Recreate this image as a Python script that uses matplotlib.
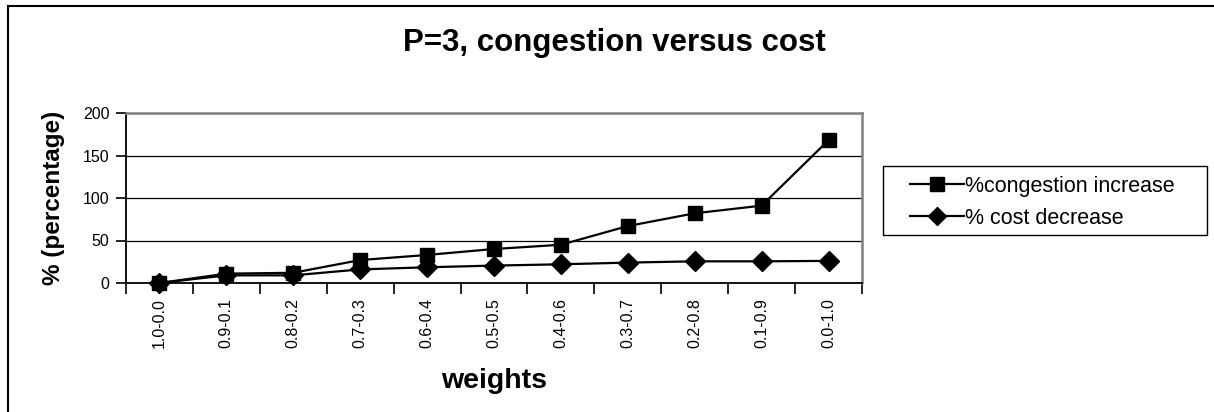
import numpy as np
import matplotlib

matplotlib.use("Agg")
import matplotlib.pyplot as plt
from matplotlib.lines import Line2D
from matplotlib.patches import Rectangle

# ----------------------------------------------------------------------
# Daten
# ----------------------------------------------------------------------

weights = ["1.0-0.0", "0.9-0.1", "0.8-0.2", "0.7-0.3", "0.6-0.4", "0.5-0.5",
           "0.4-0.6", "0.3-0.7", "0.2-0.8", "0.1-0.9", "0.0-1.0"]
congestion_increase = [0, 11, 12, 27, 33, 40, 45, 67, 82, 91, 168]
cost_decrease = [0, 9, 9, 16, 18.5, 20.5, 22, 24, 25.5, 25.5, 26]
y_ticks = [0, 50, 100, 150, 200]

W, H = 1214, 412

plt.rcParams["font.family"] = ["Liberation Sans", "DejaVu Sans"]

fig = plt.figure(figsize=(W / 100, H / 100), dpi=100)
ax = fig.add_axes([126 / W, 1 - 283 / H, 736 / W, 170 / H])

x = np.arange(len(weights))
ax.plot(x, congestion_increase, color="black", linewidth=1.6, marker="s",
        markersize=10.5, clip_on=False, zorder=4,
        label="%congestion increase")
ax.plot(x, cost_decrease, color="black", linewidth=1.6, marker="D",
        markersize=10.5, clip_on=False, zorder=4,
        label="% cost decrease")

ax.set_xlim(-0.5, len(weights) - 0.5)
ax.set_ylim(0, 200)
ax.set_yticks(y_ticks)
ax.set_yticklabels([str(v) for v in y_ticks], fontsize=11.5)
ax.set_xticks(x)
ax.set_xticklabels(weights, rotation=90, fontsize=11.5)
ax.set_xticks(np.arange(-0.5, len(weights)), minor=True)
ax.tick_params(axis="x", which="major", length=0, pad=11)
ax.tick_params(axis="x", which="minor", length=8, width=1.2, color="black")
ax.tick_params(axis="y", length=7, width=1.2, pad=5)

ax.grid(axis="y", color="black", linewidth=0.9)
ax.set_axisbelow(True)
for side in ["top", "right"]:
    ax.spines[side].set_color("#808080")
    ax.spines[side].set_linewidth(1.8)
for side in ["left", "bottom"]:
    ax.spines[side].set_color("black")
    ax.spines[side].set_linewidth(1.3)

ax.set_xlabel("weights", fontsize=20.5, fontweight="bold", labelpad=14)
ax.set_ylabel("% (percentage)", fontsize=17.5, fontweight="bold", labelpad=13)

fig.text(0.506, 1 - 43 / H, "P=3, congestion versus cost", fontsize=22.5,
         fontweight="bold", ha="center", va="center")

# Legende ohne eigenen Rahmen, Rahmen separat
leg = ax.legend(loc="upper left", bbox_to_anchor=(910 / W, 1 - 176 / H),
                bbox_transform=fig.transFigure, fontsize=15.5, frameon=False,
                numpoints=1, handlelength=2.5, handletextpad=0.05,
                borderpad=0, labelspacing=0.5, borderaxespad=0,
                markerscale=0.9)
fig.add_artist(Rectangle((883 / W, 1 - 235 / H), 324 / W, 69 / H,
                         transform=fig.transFigure, fill=False,
                         edgecolor="black", linewidth=1.0))

# Aeusserer Rahmen (nur links und oben sichtbar)
fig.add_artist(Line2D([8 / W, 8 / W], [0, 1 - 6 / H],
                      transform=fig.transFigure, color="black", linewidth=1.5))
fig.add_artist(Line2D([8 / W, 1], [1 - 6 / H, 1 - 6 / H],
                      transform=fig.transFigure, color="black", linewidth=1.5))

fig.savefig("out.png", dpi=100)
